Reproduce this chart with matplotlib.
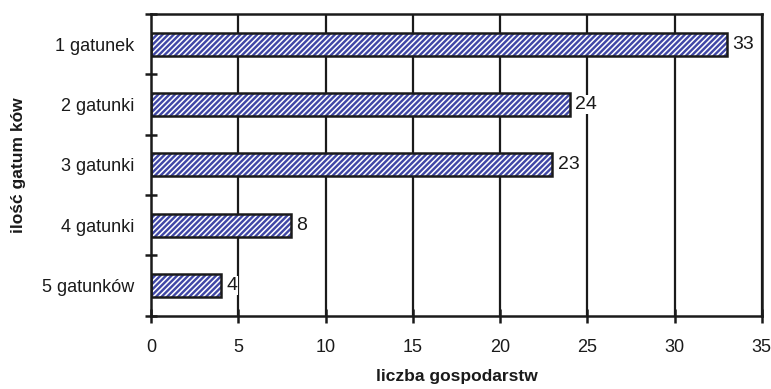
import matplotlib.pyplot as plt
import numpy as np

categories = ['1 gatunek', '2 gatunki', '3 gatunki', '4 gatunki', '5 gatunków']
values = [33, 24, 23, 8, 4]

plt.rcParams['font.family'] = ['Liberation Sans', 'DejaVu Sans']
plt.rcParams['hatch.linewidth'] = 1.1

fig = plt.figure(figsize=(7.71, 3.89), dpi=100)
ax = fig.add_axes([0.196, 0.188, 0.792, 0.776])

y = np.arange(len(categories))

# grid lines behind bars
for xv in range(5, 36, 5):
    ax.axvline(xv, color='#1a1a1a', lw=1.6, zorder=0)

# hatched fill (white stripes on blue), then black outline on top
ax.barh(y, values, height=0.38, color='#4047a6', edgecolor='white',
        hatch='//////', lw=0, zorder=2)
ax.barh(y, values, height=0.38, color='none', edgecolor='#1a1a1a',
        lw=1.8, zorder=3)

for yi, v in zip(y, values):
    ax.text(v + 0.3, yi, str(v), va='center', ha='left', fontsize=14,
            color='#1a1a1a', zorder=4,
            bbox=dict(facecolor='white', edgecolor='none', pad=0.5))

ax.set_xlim(0, 35)
ax.set_ylim(len(categories) - 0.5, -0.5)
ax.set_xticks(range(0, 36, 5))
ax.set_yticks(y)
ax.set_yticklabels(categories)
ax.set_yticks(np.arange(-0.5, len(categories), 1.0), minor=True)

ax.tick_params(axis='x', direction='inout', length=10, width=1.8,
               labelsize=13, pad=12, colors='#1a1a1a')
ax.tick_params(axis='y', which='major', length=0, labelsize=13, pad=12,
               colors='#1a1a1a')
ax.tick_params(axis='y', which='minor', direction='inout', length=8,
               width=1.8, colors='#1a1a1a')

for s in ax.spines.values():
    s.set_linewidth(1.8)
    s.set_color('#1a1a1a')

ax.set_xlabel('liczba gospodarstw', fontsize=12.5, fontweight='bold',
              labelpad=9, color='#1a1a1a')
ax.set_ylabel('ilość gatum ków', fontsize=12.5, fontweight='bold',
              labelpad=12, color='#1a1a1a')

fig.savefig('out.png', dpi=100)
